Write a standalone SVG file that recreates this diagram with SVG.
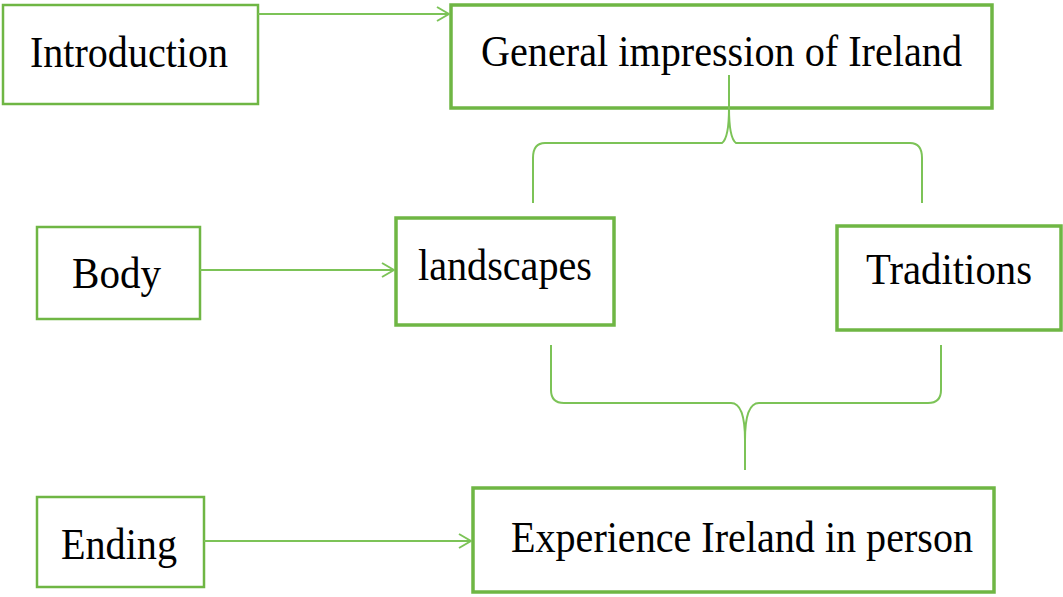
<svg xmlns="http://www.w3.org/2000/svg" width="1063" height="597" viewBox="0 0 1063 597">
<defs>
<style>
.box{fill:#fff;stroke:#6fb644;stroke-width:2.5}
.thick{stroke-width:3.5}
.lbl{font-family:"Liberation Serif","Times New Roman",serif;font-size:44px;fill:#000}
.con{fill:none;stroke:#7cc357;stroke-width:2}
</style>
<marker id="arr" viewBox="0 0 14 16" markerWidth="14" markerHeight="16" refX="13" refY="8" orient="auto" markerUnits="userSpaceOnUse">
<path d="M1,1 L13,8 L1,15" fill="none" stroke="#7cc357" stroke-width="2"/>
</marker>
</defs>
<rect width="1063" height="597" fill="#fff"/>
<g id="intro"><rect class="box" x="3" y="5" width="255" height="99"/><text class="lbl" x="30" y="67" textLength="198" lengthAdjust="spacingAndGlyphs">Introduction</text></g>
<g id="general"><rect class="box thick" x="451" y="5" width="541" height="103"/><text class="lbl" x="481" y="66" textLength="481" lengthAdjust="spacingAndGlyphs">General impression of Ireland</text></g>
<g id="body"><rect class="box" x="37" y="227" width="163" height="92"/><text class="lbl" x="72" y="288" textLength="89" lengthAdjust="spacingAndGlyphs">Body</text></g>
<g id="landscapes"><rect class="box thick" x="396" y="218" width="218" height="107"/><text class="lbl" x="418" y="280" textLength="174" lengthAdjust="spacingAndGlyphs">landscapes</text></g>
<g id="traditions"><rect class="box thick" x="837" y="226" width="224" height="104"/><text class="lbl" x="866" y="284" textLength="166" lengthAdjust="spacingAndGlyphs">Traditions</text></g>
<g id="ending"><rect class="box" x="37" y="497" width="167" height="90"/><text class="lbl" x="61" y="559" textLength="116" lengthAdjust="spacingAndGlyphs">Ending</text></g>
<g id="experience"><rect class="box thick" x="473" y="488" width="521" height="104"/><text class="lbl" x="511" y="552" textLength="462" lengthAdjust="spacingAndGlyphs">Experience Ireland in person</text></g>
<g id="connectors">
<line class="con" x1="258" y1="14" x2="449" y2="14" marker-end="url(#arr)"/>
<line class="con" x1="200" y1="270" x2="394" y2="270" marker-end="url(#arr)"/>
<line class="con" x1="204" y1="541" x2="471" y2="541" marker-end="url(#arr)"/>
<path class="con" d="M729,75 L729,108 Q729,138 722,143 L545,143 Q533,143 533,158 L533,203"/>
<path class="con" d="M729,108 Q729,138 736,143 L910,143 Q922,143 922,158 L922,203"/>
<path class="con" d="M551,345 L551,390 Q551,403 564,403 L731,403 Q745,403 745,440 L745,470"/>
<path class="con" d="M941,345 L941,390 Q941,403 928,403 L759,403 Q745,403 745,440"/>
</g>
</svg>
